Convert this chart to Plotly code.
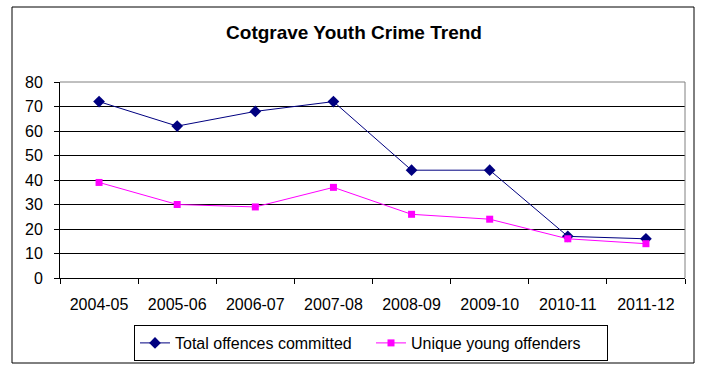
import plotly.graph_objects as go

categories = ["2004-05", "2005-06", "2006-07", "2007-08", "2008-09", "2009-10", "2010-11", "2011-12"]
total_offences = [72, 62, 68, 72, 44, 44, 17, 16]
unique_offenders = [39, 30, 29, 37, 26, 24, 16, 14]

W, H = 702, 365
L, R, T, B = 60, 685, 82, 278

def px_x(p):
    return (p - L) / (R - L)

def px_y(p):
    return (B - p) / (B - T)

fig = go.Figure()
fig.add_trace(go.Scatter(
    x=categories, y=total_offences, name="Total offences committed",
    mode="lines+markers", line=dict(color="#000080", width=1),
    marker=dict(symbol="diamond", size=9, color="#000080")))
fig.add_trace(go.Scatter(
    x=categories, y=unique_offenders, name="Unique young offenders",
    mode="lines+markers", line=dict(color="#FF00FF", width=1),
    marker=dict(symbol="square", size=7, color="#FF00FF")))

font = "Arial, Liberation Sans, sans-serif"
fig.update_layout(
    width=W, height=H,
    margin=dict(l=L, r=W - R, t=T, b=H - B, pad=0, autoexpand=False),
    paper_bgcolor="white", plot_bgcolor="white",
    font=dict(family=font, size=16, color="black"),
    title=dict(text="<b>Cotgrave Youth Crime Trend</b>", x=px_x(354), xanchor="center",
               xref="paper", y=1 - 32 / H, yanchor="middle", font=dict(size=19, family=font)),
    showlegend=True,
    legend=dict(orientation="h", x=px_x(134), xanchor="left", y=px_y(361), yanchor="bottom",
                bordercolor="black", borderwidth=1, bgcolor="white",
                font=dict(size=16), tracegroupgap=0, entrywidth=191, entrywidthmode="pixels"),
    xaxis=dict(type="category", tickson="boundaries", ticks="outside", ticklen=5,
               tickcolor="black", showline=True, linecolor="black", linewidth=1,
               showgrid=False, range=[-0.5, 7.5], tickfont=dict(size=16),
               ticklabelstandoff=12, automargin=False),
    yaxis=dict(range=[0, 80], dtick=10, ticks="outside", ticklen=5, tickcolor="black",
               showline=True, linecolor="black", linewidth=1, showgrid=True,
               gridcolor="black", gridwidth=1, zeroline=False, tickfont=dict(size=16),
               ticklabelstandoff=8, automargin=False),
)

# plot area border (gray top/right)
fig.add_shape(type="line", xref="paper", yref="paper", x0=0, x1=1, y0=1, y1=1,
              line=dict(color="#808080", width=1))
fig.add_shape(type="line", xref="paper", yref="paper", x0=1, x1=1, y0=0, y1=1,
              line=dict(color="#808080", width=1))
# outer chart frame
fig.add_shape(type="rect", xref="paper", yref="paper",
              x0=px_x(12), x1=px_x(694), y0=px_y(363), y1=px_y(7),
              line=dict(color="black", width=1), layer="below")

fig.write_html("out.html")
